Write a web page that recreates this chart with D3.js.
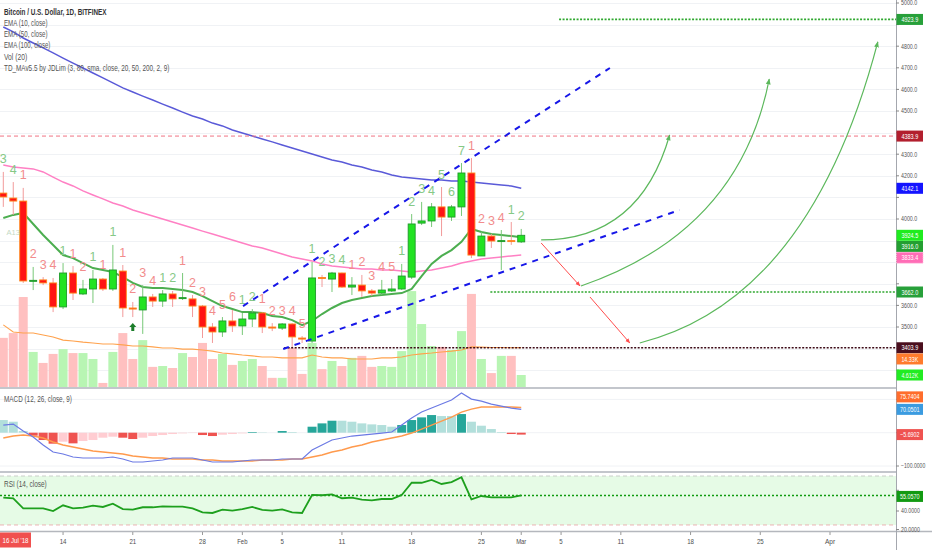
<!DOCTYPE html>
<html><head><meta charset="utf-8">
<script src="https://cdn.jsdelivr.net/npm/d3@7"></script>
<style>html,body{margin:0;padding:0;background:#fff;}svg{display:block;font-family:"Liberation Sans",Arial,sans-serif;}</style>
</head><body><svg id="c" width="932" height="550"></svg>
<script>
// ---------------- DATA ----------------
const firstDay = [2019, 0, 8];          // first candle: 8 Jan 2019, one candle per day
const opens  = [4120,4097,4083,3713,3718,3704,3593,3750,3653,3676, 3722,3676,3759,3588,3579,3639,3620,3653,3632,3630, 3597,3500,3477,3528,3505,3537,3565,3500,3495,3514, 3449,3435,3729,3722,3750,3685,3694,3667,3657,3667, 3676,3731,3981,3991,4056,4009,4056,4213,3829,3921, 3898,3900,3894];
const highs  = [4218,4171,4144,3778,3731,3727,3796,3782,3718,3764, 3727,3880,3787,3616,3694,3653,3671,3667,3750,3648, 3602,3518,3546,3579,3565,3583,3570,3518,3518,3518, 3458,3801,3741,3755,3752,3731,3741,3676,3718,3722, 3792,4023,4079,4074,4148,4065,4259,4282,3940,3931, 3949,3986,3954];
const lows   = [4056,4019,3704,3671,3694,3569,3583,3625,3648,3611, 3667,3667,3546,3546,3468,3593,3593,3593,3625,3546, 3449,3426,3454,3477,3463,3500,3472,3481,3486,3407, 3426,3426,3685,3662,3681,3648,3639,3643,3648,3662, 3671,3722,3972,3963,3921,3991,4014,3819,3829,3866, 3764,3880,3889];
const closes = [4102,4083,3713,3716,3704,3593,3750,3657,3676,3722, 3676,3764,3588,3583,3639,3620,3653,3630,3636,3597, 3500,3477,3528,3505,3537,3565,3500,3495,3514,3454, 3444,3727,3725,3750,3685,3694,3667,3657,3671,3676, 3736,3977,3991,4056,4009,4056,4213,3833,3921,3898, 3900,3896,3924.5];
const volumesK = [17.8,19.5,32.3,12.8,8.9,12.1,13.8,12.4,12.4,10.3, 1.8,12.8,19.5,10.3,17.0,7.5,7.8,7.1,12.4,11.0, 16.0,10.3,12.1,8.2,9.6,10.3,7.8,3.6,3.6,14.2, 5.0,16.0,6.7,9.6,7.8,10.7,11.4,7.5,7.8,7.5, 13.1,34.4,22.7,14.9,14.6,13.5,20.2,33.4,10.3,5.3, 11.4,11.4,4.612];
const volMAK = [22.4,19.9,19.5,19.5,18.8,18.1,17.0,16.7,16.3,16.0, 15.6,15.6,15.3,14.9,14.9,14.6,14.2,14.2,13.8,13.8, 13.5,13.1,12.4,12.1,11.7,11.4,11.0,11.0,10.7,10.7, 10.7,11.7,11.0,10.7,10.7,10.3,10.3,10.3,10.7,10.7, 11.0,11.7,12.1,12.4,12.8,13.1,13.5,14.6,14.5,14.4, 14.4,14.3,14.33];
const ema10 = [4005,4019,4028,3977,3926,3880,3833,3819,3796,3773, 3764,3755,3731,3704,3685,3681,3681,3676,3671,3662, 3643,3620,3597,3583,3569,3569,3565,3551,3546,3532, 3509,3528,3560,3588,3611,3625,3634,3643,3648,3653, 3657,3676,3736,3792,3829,3856,3894,3954,3940,3931, 3926,3921,3916];
const ema50 = [4250,4241,4236,4232,4218,4194,4171,4153,4130,4111, 4093,4074,4060,4042,4028,4014,4000,3986,3972,3958, 3944,3931,3917,3903,3889,3875,3866,3852,3838,3824, 3815,3806,3792,3782,3778,3773,3769,3769,3764,3764, 3759,3755,3759,3764,3773,3782,3796,3806,3815,3819, 3824,3829,3833.4];
const ema100 = [4889,4866,4838,4815,4792,4769,4745,4722,4699,4676, 4653,4630,4607,4588,4569,4551,4532,4514,4495,4477, 4463,4444,4431,4412,4398,4384,4370,4357,4343,4329, 4315,4301,4287,4273,4264,4250,4241,4227,4218,4204, 4194,4190,4185,4181,4181,4176,4176,4171,4167,4162, 4157,4153,4142.1];
const tdCount = [3,4,1,2,3,4,1,1,2,1, 1,1,1,2,3,4,1,2,1,2, 3,4,5,6,1,2,1,2,3,4, 5,1,2,3,4,1,2,3,4,5, 1,2,3,4,5,6,7,1,2,3, 4,1,2];
const tdSide = ["g","g","r","r","r","r","g","r","r","g", "r","g","r","r","r","r","g","g","r","r", "r","r","r","r","g","g","r","r","r","r", "r","g","g","g","g","r","r","r","r","r", "g","g","g","g","g","g","g","r","r","r", "r","g","g"];
const macdLine = [23,26,5,-13,-37,-58,-64,-73,-76,-76, -76,-73,-79,-88,-88,-85,-82,-76,-76,-76, -82,-88,-88,-88,-85,-82,-82,-82,-79,-79, -79,-52,-37,-22,-16,-10,-7,-4,-1,2, 23,44,62,74,86,98,119,101,95,86, 80,74,70.0501];
const signalLine = [-16,-10,-7,-10,-16,-28,-37,-43,-49,-55, -58,-61,-64,-70,-73,-76,-76,-79,-79,-79, -82,-82,-85,-85,-85,-85,-82,-82,-82,-79, -79,-73,-67,-58,-52,-43,-37,-28,-22,-16, -10,-1,11,23,35,47,62,71,77,77, 77,77,75.7404];
const macdHist = [38,33,5,-9,-22,-33,-27,-32,-25,-22, -15,-12,-15,-19,-15,-10,-7,-4,-2,-1, -7,-10,-6,-4,-2,2,1,0,5,2, 0,18,28,36,36,33,28,25,23,18, 23,38,46,53,50,50,56,33,21,11, 2,-4,-5.6902];
const rsiValues = [52.9,52.3,42.6,42.6,42.6,40.0,45.5,42.6,43.2,45.1, 43.9,47.1,41.9,41.3,43.6,43.6,44.5,44.2,44.2,42.6, 38.7,38.1,41.3,40.3,41.9,43.9,41.0,40.3,41.6,38.7, 38.1,55.5,55.2,56.1,52.3,52.9,50.9,50.3,51.6,51.6, 55.5,67.3,67.3,70.0,66.1,68.0,72.6,51.3,54.5,53.2, 53.2,53.2,55.057];
const rsiBands = [73.8, 26.5];
const priceTicks = [3300,3400,3500,3600,3700,3800,3900,4000,4100,4200,4300,4400,4500,4600,4700,4800,4900,5000];
const macdTicks = [-100, 0, 100];
const rsiTicks = [20, 40, 60];
const dateTickDays = [6,13,20,24,28,34,41,48,52,56,62,69,76,83];
const dateTickLabels = ["14","21","28","Feb","5","11","18","25","Mar","5","11","18","25","Apr"];
const legendLines = ["Bitcoin / U.S. Dollar, 1D, BITFINEX","EMA (10, close)","EMA (50, close)","EMA (100, close)","Vol (20)","TD_MAv5.5 by JDLim (3, 80, sma, close, 20, 50, 200, 2, 9)"];
// user drawings, in (day index, price)
const trendLines = [[[24.07,3597],[60.9,4699]], [[28.1,3398],[67.9,4042]]];
const hLevels = [{p:4383.9, from:-1, kind:"red"}, {p:4923.9, from:55.8, kind:"green"}, {p:3662.0, from:48.9, kind:"green"}, {p:3403.9, from:28.2, kind:"dark"}];
const upCurves = [[[54.0,3903],[63.9,3903],[66.9,4389]], [[58.0,3690],[73.9,3942],[76.9,4648]], [[63.9,3426],[81.0,3625],[87.8,4820]]];
const downArrows = [[[54.0,3889],[57.9,3690]], [[58.9,3639],[62.9,3426]]];

// ---------------- SCALES ----------------
const svg = d3.select("#c");
const W = 932, AX = 896;
const t0 = Date.UTC(firstDay[0], firstDay[1], firstDay[2]);
const dayDate = i => new Date(t0 + i * 864e5);
const x = d3.scaleUtc().domain([dayDate(0), dayDate(83)]).range([3.3, 830]);
const xi = i => x(dayDate(i));
const y = d3.scaleLinear().domain([4000, 5000]).range([219, 3]);
const yVol = d3.scaleLinear().domain([0, 100]).range([388, 106.3]);
const yMacd = d3.scaleLinear().domain([0, -100]).range([432.7, 466]);
const yRsi = d3.scaleLinear().domain([40, 20]).range([511, 531.7]);
const idx = d3.range(opens.length);

const defs = svg.append("defs");
function clip(id, y0, y1){ defs.append("clipPath").attr("id", id).append("rect").attr("x",0).attr("y",y0).attr("width",AX).attr("height",y1-y0); }
clip("cMain", 0, 387); clip("cMacd", 389, 471); clip("cRsi", 473, 531);
function arrowMarker(id, color){
  defs.append("marker").attr("id", id).attr("viewBox","0 0 10 10").attr("refX",9).attr("refY",5)
    .attr("markerWidth",5).attr("markerHeight",5).attr("orient","auto")
    .append("path").attr("d","M0,1 L10,5 L0,9 Z").attr("fill", color);
}
arrowMarker("aG", "#5cb85c"); arrowMarker("aR", "#ff4d4d");

function fitText(sel, perChar){ sel.attr("textLength", function(){ return this.textContent.length * perChar; }).attr("lengthAdjust","spacingAndGlyphs"); return sel; }

// ---------------- MAIN PANE ----------------
const main = svg.append("g").attr("clip-path","url(#cMain)");
main.selectAll("line.grid").data(priceTicks).join("line").attr("x1",0).attr("x2",AX)
  .attr("y1", d=>Math.round(y(d))+0.5).attr("y2", d=>Math.round(y(d))+0.5).attr("stroke","#f0f2f5");

// volume
main.selectAll("rect.vol").data(idx).join("rect")
  .attr("x", i=>xi(i)-4.5).attr("width", 9)
  .attr("y", i=>yVol(volumesK[i])).attr("height", i=>388-yVol(volumesK[i]))
  .attr("fill", i=> closes[i]>=opens[i] ? "#b8f5b3" : "#ffc0c0");
main.append("path").datum(volMAK).attr("fill","none").attr("stroke","#ffa24d").attr("stroke-width",1.1)
  .attr("d", d3.line().x((d,i)=>xi(i)).y(d=>yVol(d)));

// EMAs
const lineP = d3.line().x((d,i)=>xi(i)).y(d=>y(d));
main.append("path").datum(ema100).attr("fill","none").attr("stroke","#5a5ad8").attr("stroke-width",1.5).attr("d", lineP);
main.append("path").datum(ema50).attr("fill","none").attr("stroke","#ff80c4").attr("stroke-width",1.5).attr("d", lineP);
main.append("path").datum(ema10).attr("fill","none").attr("stroke","#4cae50").attr("stroke-width",2).attr("d", lineP);

// candles
const cg = main.append("g");
idx.forEach(i=>{
  const up = closes[i] >= opens[i];
  cg.append("line").attr("x1", xi(i)).attr("x2", xi(i)).attr("y1", y(highs[i])).attr("y2", y(lows[i]))
    .attr("stroke", up ? "#78c878" : "#f29a9a").attr("stroke-width",1);
  const yt = Math.min(y(opens[i]), y(closes[i])), h = Math.max(1, Math.abs(y(opens[i])-y(closes[i])));
  cg.append("rect").attr("x", xi(i)-3.5).attr("width",7).attr("y", yt).attr("height", h)
    .attr("fill", up ? "#22e322" : "#ff1414").attr("stroke", up ? "#1f9a2a" : "#ff8a1e").attr("stroke-width",0.9);
});
// TD counts
main.selectAll("text.td").data(idx).join("text")
  .attr("x", i=>xi(i)).attr("y", i=>y(highs[i])-8.5).attr("text-anchor","middle")
  .attr("font-size", 12.5).attr("fill", i=> tdSide[i]==="g" ? "#86c986" : "#f28c8c")
  .text(i=>tdCount[i]);
main.append("text").attr("x", xi(1)).attr("y", y(lows[1])+20).attr("text-anchor","middle")
  .attr("font-size",7.5).attr("fill","#c4d9c4").text("A13");
// TD buy arrow
{ const ax = xi(13), ay = y(lows[13]) + 10;
  main.append("path").attr("d", `M${ax},${ay-4} L${ax+3.5},${ay} L${ax+1.5},${ay} L${ax+1.5},${ay+4} L${ax-1.5},${ay+4} L${ax-1.5},${ay} L${ax-3.5},${ay} Z`).attr("fill","#1b7d2a"); }

// drawings
const levelStyle = { red:{c:"#f07383", dash:"4,3", w:1}, green:{c:"#2fa82f", dash:"2,1.5", w:1.7}, dark:{c:"#3d0c18", dash:"2,1.5", w:1.7} };
hLevels.forEach(l=>{
  const s = levelStyle[l.kind];
  main.append("line").attr("x1", Math.max(0, xi(l.from))).attr("x2", AX).attr("y1", y(l.p)).attr("y2", y(l.p))
    .attr("stroke", s.c).attr("stroke-dasharray", s.dash).attr("stroke-width", s.w);
});
trendLines.forEach(([a,b])=>{
  main.append("line").attr("x1", xi(a[0])).attr("y1", y(a[1])).attr("x2", xi(b[0])).attr("y2", y(b[1]))
    .attr("stroke","#1717e8").attr("stroke-width",2).attr("stroke-dasharray","6,6");
});
upCurves.forEach(([p0,c,p1])=>{
  const p = d3.path(); p.moveTo(xi(p0[0]), y(p0[1])); p.quadraticCurveTo(xi(c[0]), y(c[1]), xi(p1[0]), y(p1[1]));
  main.append("path").attr("d", p.toString()).attr("fill","none").attr("stroke","#5cb85c").attr("stroke-width",1.2).attr("marker-end","url(#aG)");
});
downArrows.forEach(([a,b])=>{
  main.append("line").attr("x1", xi(a[0])).attr("y1", y(a[1])).attr("x2", xi(b[0])).attr("y2", y(b[1]))
    .attr("stroke","#ff4d4d").attr("stroke-width",1).attr("marker-end","url(#aR)");
});

// legend
legendLines.forEach((t,k)=>{
  const tx = svg.append("text").attr("x",4).attr("y",14.5+11.3*k).attr("font-size",9.5)
    .attr("fill", k===0 ? "#333" : "#555").attr("font-weight", k===0 ? 600 : 400).text(t);
  fitText(tx, k===0 ? 2.93 : 2.9);
});

// ---------------- MACD PANE ----------------
const mg = svg.append("g").attr("clip-path","url(#cMacd)");
mg.selectAll("line.g").data(macdTicks).join("line").attr("x1",0).attr("x2",AX)
  .attr("y1", d=>yMacd(d)).attr("y2", d=>yMacd(d)).attr("stroke","#f0f2f5");
mg.selectAll("rect.h").data(idx).join("rect")
  .attr("x", i=>xi(i)-4.5).attr("width",9)
  .attr("y", i=>Math.min(yMacd(0), yMacd(macdHist[i]))).attr("height", i=>Math.abs(yMacd(macdHist[i])-yMacd(0)))
  .attr("fill", i=>{ const v = macdHist[i], pv = i>0 ? macdHist[i-1] : Infinity;
      return v>=0 ? (v>pv ? "#26a69a" : "#b2dfdb") : (v<pv ? "#ef5350" : "#ffcdd2"); });
const lineM = d3.line().x((d,i)=>xi(i)).y(d=>yMacd(d));
mg.append("path").datum(signalLine).attr("fill","none").attr("stroke","#ff9a4d").attr("stroke-width",1.4).attr("d", lineM);
mg.append("path").datum(macdLine).attr("fill","none").attr("stroke","#6c7ae4").attr("stroke-width",1.2).attr("d", lineM);
fitText(svg.append("text").attr("x",4).attr("y",402).attr("font-size",9.5).attr("fill","#555").text("MACD (12, 26, close, 9)"), 2.95);

// ---------------- RSI PANE ----------------
const rg = svg.append("g").attr("clip-path","url(#cRsi)");
rg.append("rect").attr("x",0).attr("width",AX).attr("y", yRsi(rsiBands[0])).attr("height", yRsi(rsiBands[1])-yRsi(rsiBands[0])).attr("fill","#e6fbe6");
rg.append("line").attr("x1",0).attr("x2",AX).attr("y1",yRsi(rsiBands[0])).attr("y2",yRsi(rsiBands[0])).attr("stroke","#c9cfc9").attr("stroke-dasharray","4,3");
rg.append("line").attr("x1",0).attr("x2",AX).attr("y1",yRsi(rsiBands[1])).attr("y2",yRsi(rsiBands[1])).attr("stroke","#ebb4b4").attr("stroke-dasharray","4,3");
const rLast = rsiValues[rsiValues.length-1];
rg.append("line").attr("x1",0).attr("x2",AX).attr("y1",yRsi(rLast)).attr("y2",yRsi(rLast)).attr("stroke","#0f9a0f").attr("stroke-width",1.5).attr("stroke-dasharray","2,2");
rg.append("path").datum(rsiValues).attr("fill","none").attr("stroke","#1ea01e").attr("stroke-width",1.8)
  .attr("d", d3.line().x((d,i)=>xi(i)).y(d=>yRsi(d)));
fitText(svg.append("text").attr("x",4).attr("y",487).attr("font-size",9.5).attr("fill","#555").text("RSI (14, close)"), 2.85);

// ---------------- FRAME ----------------
svg.append("line").attr("x1",0).attr("x2",AX).attr("y1",388).attr("y2",388).attr("stroke","#c3c6cc").attr("stroke-width",2);
svg.append("line").attr("x1",0).attr("x2",AX).attr("y1",472).attr("y2",472).attr("stroke","#c3c6cc").attr("stroke-width",2);
svg.append("line").attr("x1",0).attr("x2",W).attr("y1",531.5).attr("y2",531.5).attr("stroke","#b4b7bd").attr("stroke-width",1.5);
svg.append("line").attr("x1",AX+0.5).attr("x2",AX+0.5).attr("y1",0).attr("y2",550).attr("stroke","#a4a7ae");

// x axis
dateTickDays.forEach((d,k)=>{
  svg.append("line").attr("x1", xi(d)).attr("x2", xi(d)).attr("y1",532).attr("y2",535).attr("stroke","#999");
  fitText(svg.append("text").attr("x", xi(d)).attr("y",544).attr("text-anchor","middle").attr("font-size",8).attr("fill","#4d4d4d").text(dateTickLabels[k]), 3.4);
});
svg.append("rect").attr("x",0).attr("y",532.5).attr("width",31).attr("height",15).attr("fill","#f0504f");
fitText(svg.append("text").attr("x",15.5).attr("y",543).attr("text-anchor","middle").attr("font-size",7.5).attr("fill","#fff").text("16 Jul '18"), 2.6);

// value label boxes: positions first (so covered tick labels are skipped)
const f1 = d3.format(".1f"), fK = v => d3.format(".4r")(v) + "K", f4 = d3.format(".4f");
const last = a => a[a.length-1];
const mainLabels = [
  {yy:y(4923.9), t:f1(4923.9), c:"#27a03a"},
  {yy:y(4383.9), t:f1(4383.9), c:"#b21f2e"},
  {yy:y(last(ema100)), t:f1(last(ema100)), c:"#1414ff"},
  {yy:y(last(closes)), t:f1(last(closes)), c:"#1fec1f"},
  {yy:y(last(ema10)), t:f1(last(ema10)), c:"#239f31"},
  {yy:y(last(ema50)), t:f1(last(ema50)), c:"#ff6db6", s:"#ffc0df"},
  {yy:y(3662.0), t:f1(3662.0), c:"#27a03a"},
  {yy:y(3403.9), t:f1(3403.9), c:"#4a0f1e"},
  {yy:yVol(last(volMAK)), t:fK(last(volMAK)), c:"#ff7b2c"},
  {yy:yVol(last(volumesK)), t:fK(last(volumesK)), c:"#22ec22"}];
let prev = -100;
mainLabels.forEach(l=>{ l.yc = Math.max(l.yy, prev + 11.2); prev = l.yc; });
const macdLabels = [
  {yy:yMacd(last(macdHist)), t:f4(last(macdHist)), c:"#ef5350"},
  {yy:yMacd(last(macdLine)), t:f4(last(macdLine)), c:"#3b9be0"},
  {yy:yMacd(last(signalLine)), t:f4(last(signalLine)), c:"#ff6d2c"}];
prev = 1000;
macdLabels.forEach(l=>{ l.yc = Math.min(l.yy, prev - 12.5); prev = l.yc; });
const rsiLabels = [{yc:yRsi(rLast)+1, t:f4(rLast), c:"#129a12"}];
const allBoxes = mainLabels.concat(macdLabels, rsiLabels);

// y axis ticks
function tickLabels(ticks, scale, fmt, y0, y1){
  ticks.forEach(t=>{ const yy = Math.min(scale(t), 529.5); if (scale(t) < y0 || scale(t) > y1) return;
    svg.append("line").attr("x1",AX).attr("x2",AX+3).attr("y1",yy).attr("y2",yy).attr("stroke","#888");
    if (allBoxes.some(b => Math.abs(b.yc - yy) < 10)) return;
    const s = fmt(t);
    fitText(svg.append("text").attr("x",AX+5+s.length*2.7).attr("y",yy+2.4).attr("text-anchor","end")
      .attr("font-size",6.5).attr("fill","#555").text(s), 2.7);
  });
}
tickLabels(priceTicks, y, d3.format(".1f"), 2, 384);
tickLabels(macdTicks, yMacd, d3.format(".4f"), 392, 468);
tickLabels(rsiTicks, yRsi, d3.format(".4f"), 476, 533);

function box(yc, text, fill, stroke){
  const r = svg.append("rect").attr("x",AX+0.5).attr("y",yc-5.5).attr("width",26.5).attr("height",11).attr("fill",fill);
  if (stroke) r.attr("stroke",stroke).attr("stroke-dasharray","1,1");
  fitText(svg.append("text").attr("x",AX+13.8).attr("y",yc+2.6).attr("text-anchor","middle").attr("font-size",7).attr("fill","#fff").text(text), 2.8);
}
allBoxes.forEach(b => box(b.yc, b.t, b.c, b.s));
</script></body></html>
